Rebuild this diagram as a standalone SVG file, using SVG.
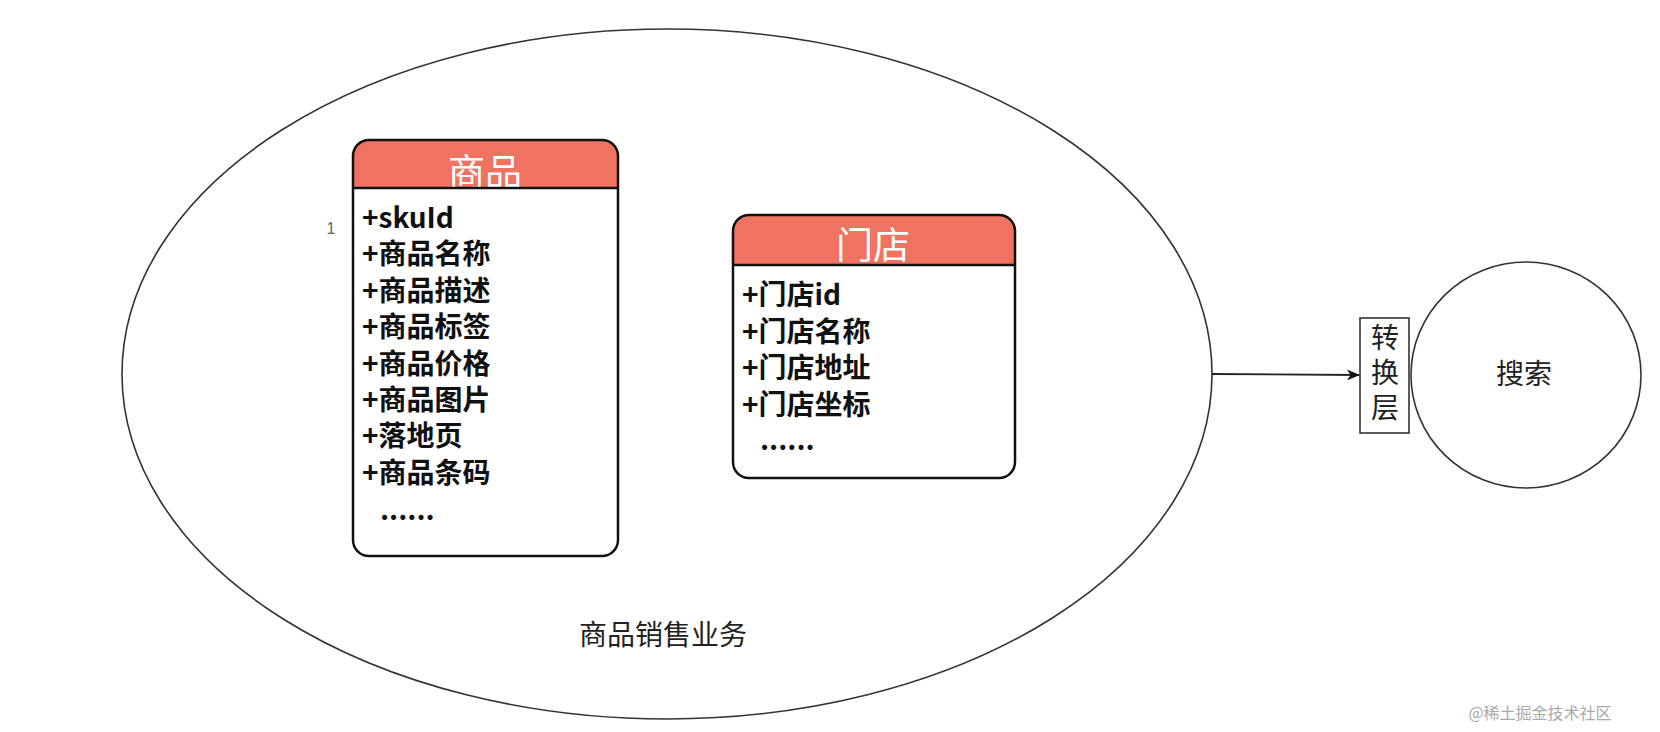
<svg xmlns="http://www.w3.org/2000/svg" width="1660" height="732" viewBox="0 0 1660 732">
<style>
.hdr{fill:#F07260}
.title{font-family:"Noto Sans CJK SC","Liberation Sans",sans-serif;font-size:37px;fill:#fff;text-anchor:middle}
.row{font-family:"Noto Sans CJK SC","Liberation Sans",sans-serif;font-size:28px;font-weight:bold;fill:#111}
.lbl{font-family:"Noto Sans CJK SC","Liberation Sans",sans-serif;font-size:28px;fill:#222;text-anchor:middle}
.thin{fill:none;stroke:#333;stroke-width:1.6}
</style>
<defs>
<marker id="arr" markerWidth="13" markerHeight="11" refX="12" refY="5.5" orient="auto" markerUnits="userSpaceOnUse">
<path d="M0,0 L13,5.5 L0,11 L3.5,5.5 Z" fill="#111"/>
</marker>
<clipPath id="c1"><rect x="353" y="140" width="265" height="416" rx="16"/></clipPath>
<clipPath id="c2"><rect x="733" y="215" width="282" height="263" rx="16"/></clipPath>
</defs>
<rect width="1660" height="732" fill="#fff"/>
<g id="business">
<ellipse cx="667" cy="374" rx="545" ry="345" class="thin"/>
<text x="663" y="645" class="lbl">商品销售业务</text>
</g>
<g id="goods">
<rect x="353" y="140" width="265" height="416" rx="16" fill="#fff"/>
<rect x="353" y="140" width="265" height="48" class="hdr" clip-path="url(#c1)"/>
<g clip-path="url(#c1)"><text x="485" y="186" class="title">商品</text></g>
<rect x="353" y="188" width="265" height="3" fill="#fff"/>
<line x1="353" y1="188" x2="618" y2="188" stroke="#111" stroke-width="2.5"/>
<rect x="353" y="140" width="265" height="416" rx="16" fill="none" stroke="#111" stroke-width="2.5"/>
<text x="331" y="234" font-family="Liberation Sans,sans-serif" font-size="16" fill="#666" text-anchor="middle">1</text>
<text x="362" y="228" class="row">+skuId</text>
<text x="362" y="264.4" class="row">+商品名称</text>
<text x="362" y="300.8" class="row">+商品描述</text>
<text x="362" y="337.2" class="row">+商品标签</text>
<text x="362" y="373.6" class="row">+商品价格</text>
<text x="362" y="410" class="row">+商品图片</text>
<text x="362" y="446.4" class="row">+落地页</text>
<text x="362" y="482.8" class="row">+商品条码</text>
<text x="380" y="520" class="row">......</text>
</g>
<g id="store">
<rect x="733" y="215" width="282" height="263" rx="16" fill="#fff"/>
<rect x="733" y="215" width="282" height="50" class="hdr" clip-path="url(#c2)"/>
<g clip-path="url(#c2)"><text x="873" y="259" class="title">门店</text></g>
<rect x="733" y="265" width="282" height="3" fill="#fff"/>
<line x1="733" y1="265" x2="1015" y2="265" stroke="#111" stroke-width="2.5"/>
<rect x="733" y="215" width="282" height="263" rx="16" fill="none" stroke="#111" stroke-width="2.5"/>
<text x="742" y="305" class="row">+门店id</text>
<text x="742" y="341.5" class="row">+门店名称</text>
<text x="742" y="378" class="row">+门店地址</text>
<text x="742" y="414.5" class="row">+门店坐标</text>
<text x="760" y="450" class="row">......</text>
</g>
<g id="transform">
<rect x="1360" y="318" width="49" height="115" fill="#fff" stroke="#333" stroke-width="1.6"/>
<text x="1385" y="376" class="lbl" writing-mode="vertical-rl" letter-spacing="7" dominant-baseline="central">转换层</text>
</g>
<g id="search">
<ellipse cx="1526" cy="375" rx="115" ry="113" class="thin"/>
<text x="1524" y="384" class="lbl">搜索</text>
</g>
<g id="connectors">
<line x1="1212" y1="374" x2="1359" y2="375" stroke="#222" stroke-width="1.8" marker-end="url(#arr)"/>
</g>
<text x="1540" y="719" font-family="Noto Sans CJK SC,sans-serif" font-size="16" fill="#aaa" text-anchor="middle">@稀土掘金技术社区</text>
</svg>
